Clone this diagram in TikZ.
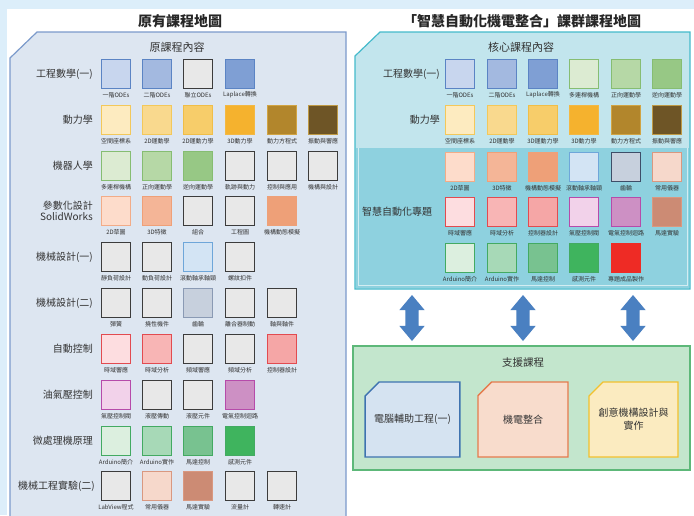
\documentclass[tikz,border=0pt]{standalone}
\usepackage{fontspec}
\setmainfont{Noto Sans CJK TC}
\usetikzlibrary{shapes.arrows,shapes.misc}
\definecolor{bgband}{HTML}{DCEEFA}
\definecolor{lpanel}{HTML}{DDE6F1}
\definecolor{lpanelb}{HTML}{7B9ACB}
\definecolor{rpanel}{HTML}{C2E5ED}
\definecolor{rpanelb}{HTML}{45BACB}
\definecolor{rdark}{HTML}{8ED1DF}
\definecolor{spanel}{HTML}{C3E6CD}
\definecolor{spanelb}{HTML}{5DB879}
\definecolor{arrowc}{HTML}{4A80C1}
\definecolor{txt}{HTML}{333333}
\tikzset{
  bx/.style={draw, line width=1.3pt, minimum size=29pt, inner sep=0pt},
  lbl/.style={font=\fontsize{6}{7}\selectfont, inner sep=0pt, text=txt},
  rowlbl/.style={font=\fontsize{10}{11.5}\selectfont, anchor=east, align=right, inner sep=0pt, text=txt},
  ttl/.style={font=\fontsize{14}{16}\selectfont\bfseries, inner sep=0pt, text=black!85},
  sub/.style={font=\fontsize{11}{13}\selectfont, inner sep=0pt, text=txt},
  cBa/.style={fill={rgb,255:red,200;green,214;blue,238}, draw={rgb,255:red,91;green,132;blue,196}},
  cBb/.style={fill={rgb,255:red,163;green,185;blue,224}, draw={rgb,255:red,91;green,132;blue,196}},
  cBc/.style={fill={rgb,255:red,127;green,159;blue,212}, draw={rgb,255:red,91;green,132;blue,196}},
  cGy/.style={fill={rgb,255:red,232;green,232;blue,232}, draw={rgb,255:red,60;green,60;blue,60}},
  cYa/.style={fill={rgb,255:red,253;green,235;blue,192}, draw={rgb,255:red,243;green,200;blue,90}},
  cYb/.style={fill={rgb,255:red,249;green,217;blue,142}, draw={rgb,255:red,243;green,200;blue,90}},
  cYc/.style={fill={rgb,255:red,247;green,205;blue,106}, draw={rgb,255:red,240;green,190;blue,72}},
  cYd/.style={fill={rgb,255:red,245;green,178;blue,46}, draw={rgb,255:red,243;green,184;blue,67}},
  cYe/.style={fill={rgb,255:red,178;green,134;blue,44}, draw={rgb,255:red,209;green,164;blue,67}},
  cYf/.style={fill={rgb,255:red,110;green,85;blue,38}, draw={rgb,255:red,191;green,154;blue,69}},
  cGa/.style={fill={rgb,255:red,220;green,235;blue,210}, draw={rgb,255:red,134;green,189;blue,114}},
  cGb/.style={fill={rgb,255:red,182;green,216;blue,166}, draw={rgb,255:red,134;green,189;blue,114}},
  cGc/.style={fill={rgb,255:red,151;green,200;blue,133}, draw={rgb,255:red,134;green,189;blue,114}},
  cSa/.style={fill={rgb,255:red,253;green,220;blue,203}, draw={rgb,255:red,242;green,172;blue,136}},
  cSb/.style={fill={rgb,255:red,244;green,181;blue,151}, draw={rgb,255:red,239;green,160;blue,120}},
  cSc/.style={fill={rgb,255:red,238;green,160;blue,120}, draw={rgb,255:red,238;green,160;blue,120}},
  cLb/.style={fill={rgb,255:red,211;green,228;blue,244}, draw={rgb,255:red,110;green,166;blue,217}},
  cGr/.style={fill={rgb,255:red,199;green,208;blue,221}, draw={rgb,255:red,138;green,154;blue,180}},
  cGrd/.style={fill={rgb,255:red,199;green,208;blue,221}, draw={rgb,255:red,62;green,78;blue,104}},
  cRa/.style={fill={rgb,255:red,253;green,221;blue,224}, draw={rgb,255:red,226;green,75;blue,80}},
  cRb/.style={fill={rgb,255:red,248;green,181;blue,181}, draw={rgb,255:red,226;green,75;blue,80}},
  cRc/.style={fill={rgb,255:red,245;green,166;blue,166}, draw={rgb,255:red,226;green,75;blue,80}},
  cPa/.style={fill={rgb,255:red,242;green,210;blue,234}, draw={rgb,255:red,182;green,75;blue,170}},
  cPb/.style={fill={rgb,255:red,205;green,144;blue,196}, draw={rgb,255:red,182;green,75;blue,170}},
  cAa/.style={fill={rgb,255:red,220;green,239;blue,223}, draw={rgb,255:red,67;green,170;blue,98}},
  cAb/.style={fill={rgb,255:red,167;green,217;blue,183}, draw={rgb,255:red,67;green,170;blue,98}},
  cAc/.style={fill={rgb,255:red,120;green,194;blue,144}, draw={rgb,255:red,67;green,170;blue,98}},
  cAd/.style={fill={rgb,255:red,63;green,180;blue,94}, draw={rgb,255:red,67;green,170;blue,98}},
  cMa/.style={fill={rgb,255:red,246;green,216;blue,203}, draw={rgb,255:red,217;green,152;blue,128}},
  cMb/.style={fill={rgb,255:red,204;green,139;blue,116}, draw={rgb,255:red,217;green,152;blue,128}},
  cRd/.style={fill={rgb,255:red,238;green,43;blue,37}, draw={rgb,255:red,238;green,43;blue,37}},
  dblarrow/.style={double arrow, rotate=90, minimum height=46pt, minimum width=25pt,
    inner xsep=0pt, inner ysep=6.5pt,
    double arrow head extend=6pt, double arrow tip angle=80, fill=arrowc, draw=none},
  supbox/.style={chamfered rectangle, chamfered rectangle corners=north west,
    chamfered rectangle xsep=7pt, chamfered rectangle ysep=7pt, line width=1.3pt,
    minimum height=75pt, inner sep=2pt, align=center, text=txt, font=\fontsize{10}{13}\selectfont}
}
\newcommand\cbox[5]{\node[bx,#4] (#1) at (#2,#3) {}; \node[lbl] (#1l) at (#2,#3+21) {#5};}
\begin{document}
\begin{tikzpicture}[x=1pt,y=-1pt]
\useasboundingbox (0,0) rectangle (694,515);
\clip (0,0) rectangle (694,515);
\fill[bgband] (0,0) rectangle (694,515);
\fill[white] (7,9) rectangle (694,515);

% ---------- left panel ----------
\node[ttl] (ltitle) at (180,21) {原有課程地圖};
\draw[fill=lpanel, draw=lpanelb, line width=1.2pt] (10,58) -- (37,32) -- (346,32) -- (346,530) -- (10,530) -- cycle;
\node[sub] (lsub) at (177,47) {原課程內容};

\node[rowlbl] (lr1) at (93,74) {工程數學(一)};
\node[rowlbl] (lr2) at (93,120) {動力學};
\node[rowlbl] (lr3) at (93,166) {機器人學};
\node[rowlbl] (lr4) at (93,211) {參數化設計\\SolidWorks};
\node[rowlbl] (lr5) at (93,257) {機械設計(一)};
\node[rowlbl] (lr6) at (93,303) {機械設計(二)};
\node[rowlbl] (lr7) at (93,349) {自動控制};
\node[rowlbl] (lr8) at (93,395) {油氣壓控制};
\node[rowlbl] (lr9) at (93,441) {微處理機原理};
\node[rowlbl] (lr10) at (95,486) {機械工程實驗(二)};

\cbox{L1a}{116}{74}{cBa}{一階ODEs}
\cbox{L1b}{157}{74}{cBb}{二階ODEs}
\cbox{L1c}{198}{74}{cGy}{聯立ODEs}
\cbox{L1d}{240}{74}{cBc}{Laplace轉換}

\cbox{L2a}{116}{120}{cYa}{空間座標系}
\cbox{L2b}{157}{120}{cYb}{2D運動學}
\cbox{L2c}{198}{120}{cYc}{2D運動力學}
\cbox{L2d}{240}{120}{cYd}{3D動力學}
\cbox{L2e}{282}{120}{cYe}{動力方程式}
\cbox{L2f}{323}{120}{cYf}{振動與響應}

\cbox{L3a}{116}{166}{cGa}{多連桿機構}
\cbox{L3b}{157}{166}{cGb}{正向運動學}
\cbox{L3c}{198}{166}{cGc}{逆向運動學}
\cbox{L3d}{240}{166}{cGy}{軌跡與動力}
\cbox{L3e}{282}{166}{cGy}{控制與應用}
\cbox{L3f}{323}{166}{cGy}{機構與設計}

\cbox{L4a}{116}{211}{cSa}{2D草圖}
\cbox{L4b}{157}{211}{cSb}{3D特徵}
\cbox{L4c}{198}{211}{cGy}{組合}
\cbox{L4d}{240}{211}{cGy}{工程圖}
\cbox{L4e}{282}{211}{cSc}{機構動態模擬}

\cbox{L5a}{116}{257}{cGy}{靜負荷設計}
\cbox{L5b}{157}{257}{cGy}{動負荷設計}
\cbox{L5c}{198}{257}{cLb}{滾動軸承軸頸}
\cbox{L5d}{240}{257}{cGy}{螺紋扣件}

\cbox{L6a}{116}{303}{cGy}{彈簧}
\cbox{L6b}{157}{303}{cGy}{撓性機件}
\cbox{L6c}{198}{303}{cGr}{齒輪}
\cbox{L6d}{240}{303}{cGy}{離合器制動}
\cbox{L6e}{282}{303}{cGy}{軸與軸件}

\cbox{L7a}{116}{349}{cRa}{時域響應}
\cbox{L7b}{157}{349}{cRb}{時域分析}
\cbox{L7c}{198}{349}{cGy}{頻域響應}
\cbox{L7d}{240}{349}{cGy}{頻域分析}
\cbox{L7e}{282}{349}{cRc}{控制器設計}

\cbox{L8a}{116}{395}{cPa}{氣壓控制閥}
\cbox{L8b}{157}{395}{cGy}{液壓傳動}
\cbox{L8c}{198}{395}{cGy}{液壓元件}
\cbox{L8d}{240}{395}{cPb}{電氣控制迴路}

\cbox{L9a}{116}{441}{cAa}{Arduino簡介}
\cbox{L9b}{157}{441}{cAb}{Arduino實作}
\cbox{L9c}{198}{441}{cAc}{馬達控制}
\cbox{L9d}{240}{441}{cAd}{感測元件}

\cbox{L10a}{116}{486}{cGy}{LabView程式}
\cbox{L10b}{157}{486}{cMa}{常用儀器}
\cbox{L10c}{198}{486}{cMb}{馬達實驗}
\cbox{L10d}{240}{486}{cGy}{流量計}
\cbox{L10e}{282}{486}{cGy}{轉速計}

% ---------- right panel ----------
\node[ttl] (rtitle) at (522,21) {「智慧自動化機電整合」課群課程地圖};
\draw[fill=rpanel, draw=rpanelb, line width=1.2pt] (355,56) -- (380,32) -- (690,32) -- (690,289) -- (355,289) -- cycle;
\fill[rdark] (356,148) rectangle (689,288);
\draw[white!60!rdark, line width=1pt] (358,148) -- (358,285) -- (687,285) -- (687,148);
\node[sub] (rsub) at (521,47) {核心課程內容};

\node[rowlbl] (rr1) at (440,74) {工程數學(一)};
\node[rowlbl] (rr2) at (440,120) {動力學};
\node[rowlbl, anchor=center] (rr3) at (397,212) {智慧自動化專題};

\cbox{R1a}{460}{74}{cBa}{一階ODEs}
\cbox{R1b}{502}{74}{cBb}{二階ODEs}
\cbox{R1c}{543}{74}{cBc}{Laplace轉換}
\cbox{R1d}{584}{74}{cGa}{多連桿機構}
\cbox{R1e}{626}{74}{cGb}{正向運動學}
\cbox{R1f}{667}{74}{cGc}{逆向運動學}

\cbox{R2a}{460}{120}{cYa}{空間座標系}
\cbox{R2b}{502}{120}{cYb}{2D運動學}
\cbox{R2c}{543}{120}{cYc}{3D運動力學}
\cbox{R2d}{584}{120}{cYd}{3D動力學}
\cbox{R2e}{626}{120}{cYe}{動力方程式}
\cbox{R2f}{667}{120}{cYf}{振動與響應}

\cbox{R3a}{460}{167}{cSa}{2D草圖}
\cbox{R3b}{502}{167}{cSb}{3D特徵}
\cbox{R3c}{543}{167}{cSc}{機構動態模擬}
\cbox{R3d}{584}{167}{cLb}{滾動軸承軸頸}
\cbox{R3e}{626}{167}{cGrd}{齒輪}
\cbox{R3f}{667}{167}{cMa}{常用儀器}

\cbox{R4a}{460}{212}{cRa}{時域響應}
\cbox{R4b}{502}{212}{cRb}{時域分析}
\cbox{R4c}{543}{212}{cRc}{控制器設計}
\cbox{R4d}{584}{212}{cPa}{氣壓控制閥}
\cbox{R4e}{626}{212}{cPb}{電氣控制迴路}
\cbox{R4f}{667}{212}{cMb}{馬達實驗}

\cbox{R5a}{460}{258}{cAa}{Arduino簡介}
\cbox{R5b}{502}{258}{cAb}{Arduino實作}
\cbox{R5c}{543}{258}{cAc}{馬達控制}
\cbox{R5d}{584}{258}{cAd}{感測元件}
\cbox{R5e}{626}{258}{cRd}{專題成品製作}

% ---------- arrows ----------
\node[dblarrow] (ar1) at (412,318) {};
\node[dblarrow] (ar2) at (523,318) {};
\node[dblarrow] (ar3) at (633,318) {};

% ---------- support panel ----------
\node[chamfered rectangle, chamfered rectangle corners=north west,
  chamfered rectangle xsep=10pt, chamfered rectangle ysep=10pt,
  fill=spanel, draw=spanelb, line width=1.2pt, minimum width=337pt, minimum height=124pt, inner sep=0pt]
  (sup) at (521.5,408) {};
\node[sub, font=\fontsize{10.5}{12}\selectfont] (suptitle) at (523,362) {支援課程};
\node[supbox, minimum width=91pt, fill={rgb,255:red,213;green,227;blue,241}, draw={rgb,255:red,62;green,115;blue,176}]
  (s1) at (412.5,419.5) {電腦輔助工程(一)};
\node[supbox, minimum width=90pt, fill={rgb,255:red,248;green,220;blue,204}, draw={rgb,255:red,229;green,123;blue,77}]
  (s2) at (523,419.5) {機電整合};
\node[supbox, minimum width=89pt, fill={rgb,255:red,251;green,235;blue,192}, draw={rgb,255:red,242;green,193;blue,46}]
  (s3) at (633.5,419.5) {創意機構設計與\\實作};
\end{tikzpicture}
\end{document}
